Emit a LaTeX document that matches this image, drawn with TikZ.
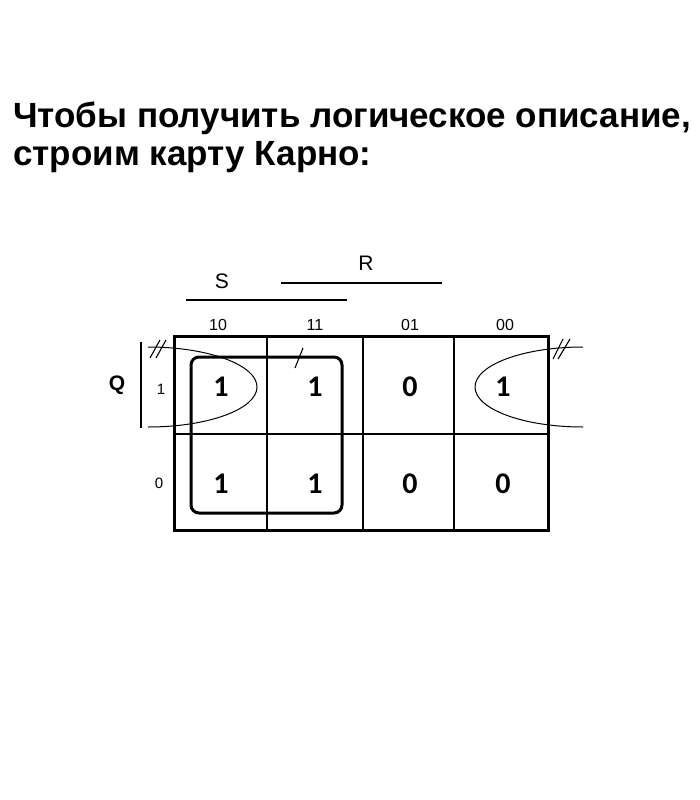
\documentclass[tikz,border=0pt]{standalone}
\usepackage{fontspec}
\setmainfont{Liberation Sans}
\newfontfamily\cellfont{Carlito}
\begin{document}
\begin{tikzpicture}[x=1pt,y=-1pt,
  titletext/.style={anchor=base west,inner sep=0pt,font=\bfseries\fontsize{35}{40}\selectfont},
  smalllabel/.style={inner sep=0pt,font=\fontsize{16}{18}\selectfont},
  varlabel/.style={inner sep=0pt,font=\fontsize{21}{24}\selectfont},
  cellval/.style={inner sep=0pt,font=\cellfont\bfseries\fontsize{30}{34}\selectfont},
  outerline/.style={line width=3pt},
  gridline/.style={line width=1.4pt},
  barline/.style={line width=1.8pt},
  curveline/.style={line width=1pt},
  hashline/.style={line width=1.1pt},
  groupbox/.style={line width=3pt,rounded corners=8pt}]
\useasboundingbox (0,0) rectangle (700,800);
\fill[white] (0,0) rectangle (700,800);
% title
\node[titletext] (t1) at (13,127) {Чтобы получить логическое описание,};
\node[titletext] (t2) at (13,165) {строим карту Карно:};
% variable bars
\node[varlabel] (R) at (366,263) {R};
\node[varlabel] (S) at (222,281) {S};
\coordinate (ra) at (281,283); \coordinate (rb) at (442,283);
\coordinate (sa) at (186,300); \coordinate (sb) at (347,300);
\draw[barline] (ra) -- (rb);
\draw[barline] (sa) -- (sb);
% column labels
\node[smalllabel] (h10) at (218,325) {10};
\node[smalllabel] (h11) at (315,325) {11};
\node[smalllabel] (h01) at (410,325) {01};
\node[smalllabel] (h00) at (505,325) {00};
% row labels
\node[varlabel,font=\bfseries\fontsize{21}{24}\selectfont] (Q) at (117,385) {Q};
\coordinate (qa) at (141,342); \coordinate (qb) at (141,428);
\draw[gridline] (qa) -- (qb);
\node[smalllabel,font=\fontsize{15}{18}\selectfont] (r1) at (161,389) {1};
\node[smalllabel,font=\fontsize{15}{18}\selectfont] (r0) at (159,483) {0};
% grid
\draw[gridline] (267,336) -- (267,530);
\draw[gridline] (363,336) -- (363,530);
\draw[gridline] (454,336) -- (454,530);
\draw[gridline] (174,434) -- (548,434);
\draw[outerline] (174,336) rectangle (548,530);
% cell values
\node[cellval] (c11) at (221,387) {1};
\node[cellval] (c12) at (315,387) {1};
\node[cellval] (c13) at (410,387) {0};
\node[cellval] (c14) at (503,387) {1};
\node[cellval] (c21) at (221,484) {1};
\node[cellval] (c22) at (315,484) {1};
\node[cellval] (c23) at (410,484) {0};
\node[cellval] (c24) at (503,484) {0};
% group rectangle
\draw[groupbox] (191,357) rectangle (342,513);
% wrap-around ellipses
\draw[curveline] (148,347) arc[start angle=-90,end angle=90,x radius=109,y radius=40];
\draw[curveline] (583,347) arc[start angle=-90,end angle=-270,x radius=108,y radius=40];
% hash marks
\draw[hashline] (150,358) -- (160,340);
\draw[hashline] (156,358) -- (166,340);
\draw[hashline] (553,359) -- (563,339);
\draw[hashline] (558,359) -- (570,339);
\draw[hashline] (295,368) -- (303,348);
\end{tikzpicture}
\end{document}
